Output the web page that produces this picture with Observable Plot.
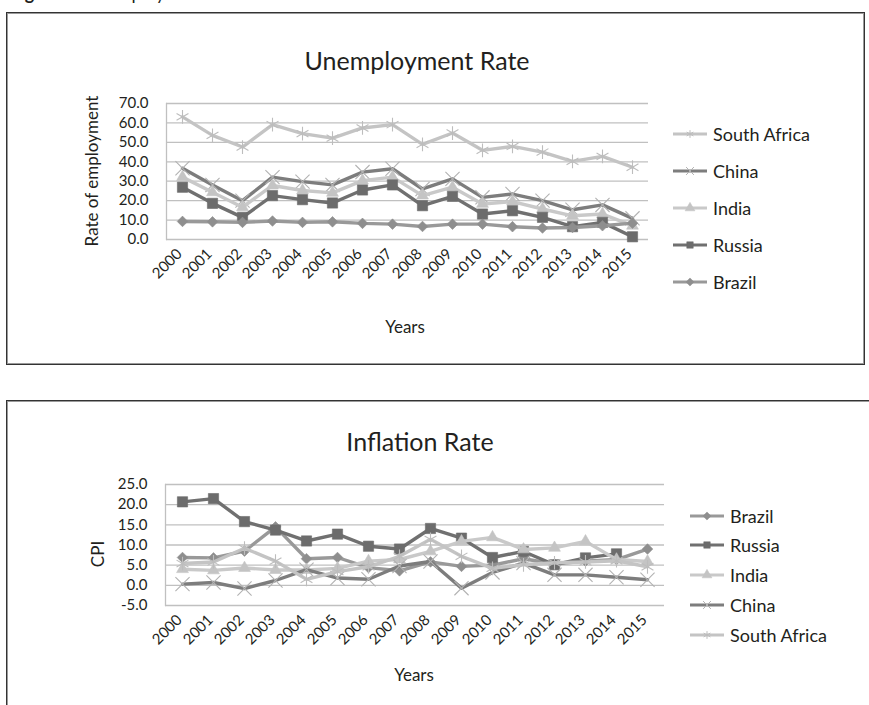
<!DOCTYPE html>
<html>
<head>
<meta charset="utf-8">
<script src="https://cdn.jsdelivr.net/npm/d3@7"></script>
<script src="https://cdn.jsdelivr.net/npm/@observablehq/plot@0.6"></script>
<style>
  html, body { margin: 0; padding: 0; background: #fff; }
  body { width: 869px; height: 705px; overflow: hidden; position: relative;
         font-family: Lato, "Open Sans", sans-serif; color: #231f20; }
  .abs { position: absolute; }
  .box { position: absolute; border: 1px solid #333; box-shadow: inset 0 0 0 1px #9a9a9a; box-sizing: border-box; }
  .title { position: absolute; font-size: 25px; transform: translate(-50%, -50%); white-space: nowrap; }
  .axis-title { position: absolute; font-size: 17px; white-space: nowrap; }
  .legend-row { position: absolute; display: flex; align-items: center; height: 24px; font-size: 18px; white-space: nowrap; }
  .legend-row svg { display: block; }
</style>
</head>
<body>
<svg class="abs" style="left:0;top:0" width="869" height="12">
  <text x="10" y="0" font-family="Lato, sans-serif" font-size="18" fill="#231f20"><tspan font-weight="bold">Figure 1: </tspan>Unemployment and Inflation Rates</text>
</svg>
<div class="box" style="left:6px;top:12px;width:859px;height:353px"></div>
<div class="box" style="left:6px;top:400px;width:900px;height:340px"></div>
<script>
// Years on the category axis
const years = ["2000","2001","2002","2003","2004","2005","2006","2007",
               "2008","2009","2010","2011","2012","2013","2014","2015"];

// Unemployment rate (%)
const unempSouthAfrica = [63.1, 53.6, 47.6, 59.1, 54.5, 52.2, 57.4, 59.1, 49.0, 54.8, 45.9, 47.9, 45.0, 40.2, 42.8, 37.2];
const unempChina       = [36.7, 28.1, 20.0, 32.1, 29.8, 28.1, 34.7, 36.4, 26.0, 31.2, 21.7, 23.4, 20.0, 15.3, 17.8, 10.9];
const unempIndia       = [32.1, 24.3, 16.6, 27.8, 25.2, 24.0, 30.3, 32.1, 22.6, 26.9, 18.3, 19.5, 15.7, 12.2, 13.1, 7.1];
const unempRussia      = [26.9, 18.6, 11.4, 22.6, 20.5, 18.8, 25.5, 28.1, 17.4, 22.2, 13.1, 14.8, 11.4, 6.6, 8.8, 1.4];
const unempBrazil      = [9.3, 9.1, 8.8, 9.5, 8.8, 9.1, 8.3, 7.9, 6.7, 7.9, 7.9, 6.6, 5.9, 6.2, 7.1, 8.4];

// Inflation rate (CPI, %)
const cpiBrazil        = [6.9, 6.8, 8.5, 14.5, 6.6, 6.9, 4.4, 3.6, 5.8, 4.7, 5.0, 6.6, 5.3, 6.0, 6.4, 9.0];
const cpiRussia        = [20.7, 21.5, 15.8, 13.7, 11.0, 12.7, 9.7, 9.0, 14.1, 11.7, 6.9, 8.4, 5.1, 6.8, 7.8, null];
const cpiIndia         = [4.0, 3.7, 4.3, 3.8, 3.8, 4.2, 6.0, 6.4, 8.4, 10.9, 11.9, 8.9, 9.3, 10.9, 6.4, 5.9];
const cpiChina         = [0.3, 0.7, -0.8, 1.2, 3.9, 1.8, 1.5, 4.8, 5.9, -0.7, 3.2, 5.5, 2.6, 2.6, 2.0, 1.4];
const cpiSouthAfrica   = [5.4, 5.8, 9.2, 6.0, 1.5, 3.4, 4.6, 7.2, 11.4, 7.2, 4.2, 5.1, 5.6, 5.8, 6.1, 4.6];

// Tick values
const unempTicks = [0, 10, 20, 30, 40, 50, 60, 70];
const cpiTicks   = [-5, 0, 5, 10, 15, 20, 25];

const FONT = "Lato, 'Open Sans', sans-serif";

// Grey styles per country
const styles = {
  "South Africa": {line: "#c4c4c4", marker: "#bdbdbd", symbol: "asterisk", r: 6.5, stroked: true},
  "China":        {line: "#7d7d7d", marker: "#b2b2b2", symbol: "times",    r: 6.5, stroked: true},
  "India":        {line: "#c9c9c9", marker: "#c4c4c4", symbol: "triangle", r: 4.4},
  "Russia":       {line: "#707070", marker: "#6c6c6c", symbol: "square",   r: 5.8},
  "Brazil":       {line: "#999999", marker: "#8e8e8e", symbol: "diamond2", r: 4.8}
};

function rows(values) {
  return years.map((year, i) => ({year, value: values[i]})).filter(d => d.value != null);
}

function seriesMarks([name, values]) {
  const s = styles[name];
  const data = rows(values);
  const dotStyle = s.stroked
    ? {stroke: s.marker, strokeWidth: 1.1, fill: "none"}
    : {fill: s.marker, stroke: s.marker, strokeWidth: 0.6};
  return [
    Plot.line(data, {x: "year", y: "value", stroke: s.line, strokeWidth: 3.4, strokeLinejoin: "round"}),
    Plot.dot(data, {x: "year", y: "value", symbol: s.symbol, r: s.r, ...dotStyle})
  ];
}

function lineChart({series, domain, ticks, marginLeft, marginRight, marginTop, marginBottom, height}) {
  return Plot.plot({
    width: 869, height, marginLeft, marginRight, marginTop, marginBottom,
    style: {fontFamily: FONT, fontSize: "15px", color: "#231f20", background: "transparent", overflow: "visible"},
    x: {type: "point", domain: years, padding: 0.5},
    y: {domain, ticks},
    marks: [
      Plot.gridY(ticks, {stroke: "#c0c0c0", strokeOpacity: 1, strokeWidth: 1.3}),
      Plot.frame({anchor: "left", stroke: "#c0c0c0", strokeWidth: 1.3}),
      Plot.axisY(ticks, {tickSize: 0, tickPadding: 18, tickFormat: d => d.toFixed(1), label: null}),
      Plot.axisX({tickRotate: -45, tickSize: 0, tickPadding: 12, dx: -3, label: null}),
      ...series.flatMap(seriesMarks)
    ]
  });
}

function legend(series, {lineLeft, textLeft, centers}) {
  series.forEach(([name], i) => {
    const s = styles[name];
    const row = document.createElement("div");
    row.className = "legend-row";
    row.style.left = lineLeft + "px";
    row.style.top = (centers[i] - 12) + "px";
    const w = textLeft - lineLeft;
    const svg = d3.create("svg").attr("width", w).attr("height", 24);
    svg.append("line").attr("x1", 0).attr("x2", 34).attr("y1", 12).attr("y2", 12)
      .attr("stroke", s.line).attr("stroke-width", 3.2);
    const sym = {asterisk: d3.symbolAsterisk, times: d3.symbolTimes, triangle: d3.symbolTriangle,
                 square: d3.symbolSquare, diamond2: d3.symbolDiamond2}[s.symbol];
    svg.append("path").attr("d", d3.symbol(sym, 42)()).attr("transform", "translate(17,12)")
      .attr("fill", s.stroked ? "none" : s.marker).attr("stroke", s.marker).attr("stroke-width", s.stroked ? 1 : 0.5);
    row.appendChild(svg.node());
    const label = document.createElement("span");
    label.textContent = name;
    row.appendChild(label);
    document.body.appendChild(row);
  });
}

function place(node, top) {
  node.style.position = "absolute";
  node.style.left = "0px";
  node.style.top = top + "px";
  document.body.appendChild(node);
}

function text(cls, content, css) {
  const el = document.createElement("div");
  el.className = cls;
  el.textContent = content;
  Object.assign(el.style, css);
  document.body.appendChild(el);
  return el;
}

// Unemployment chart
const unempSeries = [
  ["South Africa", unempSouthAfrica],
  ["China", unempChina],
  ["India", unempIndia],
  ["Russia", unempRussia],
  ["Brazil", unempBrazil]
];
place(lineChart({series: unempSeries, domain: [0, 70], ticks: unempTicks,
  marginLeft: 166, marginRight: 221, marginTop: 23, marginBottom: 70, height: 229}), 80);
text("title", "Unemployment Rate", {left: "417px", top: "60px"});
text("axis-title", "Years", {left: "405px", top: "326px", transform: "translate(-50%,-50%)"});
text("axis-title", "Rate of employment", {left: "91px", top: "171px", transform: "translate(-50%,-50%) rotate(-90deg)"});
legend(unempSeries, {lineLeft: 673, textLeft: 713, centers: [134, 171, 208, 245, 282]});

// Inflation chart
const cpiSeries = [
  ["Brazil", cpiBrazil],
  ["Russia", cpiRussia],
  ["India", cpiIndia],
  ["China", cpiChina],
  ["South Africa", cpiSouthAfrica]
];
place(lineChart({series: cpiSeries, domain: [-5, 25], ticks: cpiTicks,
  marginLeft: 165, marginRight: 205, marginTop: 24, marginBottom: 70, height: 215}), 460);
text("title", "Inflation Rate", {left: "420px", top: "441px"});
text("axis-title", "Years", {left: "414px", top: "674px", transform: "translate(-50%,-50%)"});
text("axis-title", "CPI", {left: "97px", top: "554px", transform: "translate(-50%,-50%) rotate(-90deg)"});
legend(cpiSeries, {lineLeft: 690, textLeft: 730, centers: [516, 545, 575, 605, 635]});
</script>
</body>
</html>
